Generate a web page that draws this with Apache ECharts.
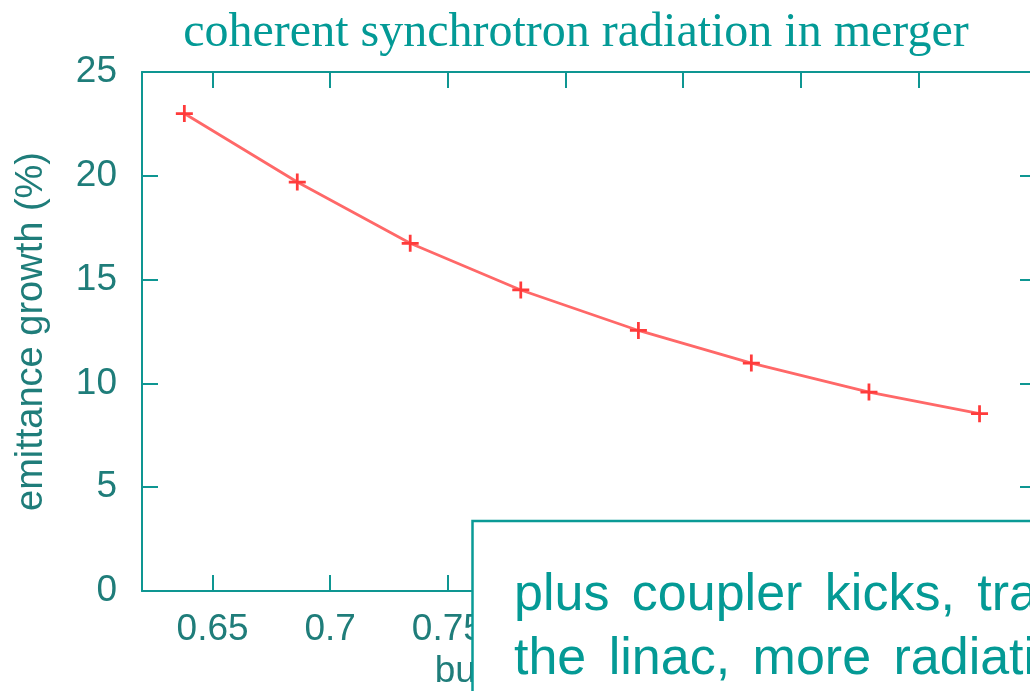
<!DOCTYPE html>
<html>
<head>
<meta charset="utf-8">
<script src="https://cdn.jsdelivr.net/npm/echarts@6/dist/echarts.min.js"></script>
<style>
  html, body { margin: 0; padding: 0; background: #ffffff; overflow: hidden; width: 1030px; height: 691px; }
  #chart { width: 1040px; height: 691px; }
</style>
</head>
<body>
<div id="chart"></div>
<script>
// ---- data ----
var titleText = 'coherent synchrotron radiation in merger';
var xAxisName = 'bunch length (mm)';
var yAxisName = 'emittance growth (%)';
var bunchLength = [0.638, 0.686, 0.734, 0.781, 0.831, 0.879, 0.929, 0.976];
var emittanceGrowth = [23.0, 19.7, 16.75, 14.5, 12.55, 10.98, 9.58, 8.54];
var xTickValues = [0.65, 0.7, 0.75, 0.8, 0.85, 0.9, 0.95, 1.0];
var xMin = 0.62, xMax = 1.0;
var yMin = 0, yMax = 25, yStep = 5;
var noteLines = ['plus coupler kicks, transverse', 'the linac, more radiation'];

var teal = '#0e9692';
var labelColor = '#1f7d7a';
var noteColor = '#049a95';
var noteFont = '"Liberation Sans", Arial, sans-serif';
var plusPath = 'path://M-1.3,-8L1.3,-8L1.3,-1.3L8,-1.3L8,1.3L1.3,1.3L1.3,8L-1.3,8L-1.3,1.3L-8,1.3L-8,-1.3L-1.3,-1.3Z';

// justified-looking note: each word is a rich token with a little extra right padding
function noteRich(line) {
  return line.split(' ').map(function (w) { return '{w|' + w + ' }'; }).join('');
}
var noteRichStyle = { w: { fontFamily: noteFont, fontSize: 52, fill: noteColor, padding: [0, 8, 0, 0] } };

var chart = echarts.init(document.getElementById('chart'), null, { renderer: 'canvas' });

var axisLineStyle = { color: teal, width: 2 };

var option = {
  backgroundColor: '#ffffff',
  animation: false,
  grid: {
    left: 142, right: 4, top: 72, bottom: 100,
    containLabel: false,
    outerBoundsMode: 'none'
  },
  xAxis: [
    {
      type: 'value', position: 'bottom', min: xMin, max: xMax,
      splitLine: { show: false },
      axisLine: { show: true, lineStyle: axisLineStyle, onZero: false },
      axisTick: { show: true, inside: true, length: 16, lineStyle: { color: teal, width: 2 }, customValues: xTickValues },
      axisLabel: {
        show: true, customValues: xTickValues, margin: 20,
        color: labelColor, fontFamily: 'Liberation Sans', fontSize: 37,
        showMinLabel: true, showMaxLabel: true
      },
      name: xAxisName, nameLocation: 'middle', nameGap: 60,
      nameTextStyle: { color: labelColor, fontFamily: 'Liberation Sans', fontSize: 37 }
    },
    {
      type: 'value', position: 'top', min: xMin, max: xMax,
      splitLine: { show: false },
      axisLine: { show: true, lineStyle: axisLineStyle, onZero: false },
      axisTick: { show: true, inside: true, length: 16, lineStyle: { color: teal, width: 2 }, customValues: xTickValues },
      axisLabel: { show: false }
    }
  ],
  yAxis: [
    {
      type: 'value', position: 'left', min: yMin, max: yMax, interval: yStep,
      splitLine: { show: false },
      axisLine: { show: true, lineStyle: axisLineStyle, onZero: false },
      axisTick: { show: true, inside: true, length: 16, lineStyle: { color: teal, width: 2 } },
      axisLabel: { show: true, margin: 25, color: labelColor, fontFamily: 'Liberation Sans', fontSize: 37 },
      name: yAxisName, nameLocation: 'middle', nameGap: 91, nameRotate: 90,
      nameTextStyle: { color: labelColor, fontFamily: 'Liberation Sans', fontSize: 38 }
    },
    {
      type: 'value', position: 'right', min: yMin, max: yMax, interval: yStep,
      splitLine: { show: false },
      axisLine: { show: true, lineStyle: axisLineStyle, onZero: false },
      axisTick: { show: true, inside: true, length: 16, lineStyle: { color: teal, width: 2 } },
      axisLabel: { show: false }
    }
  ],
  series: [
    {
      type: 'line',
      xAxisIndex: 0, yAxisIndex: 0,
      data: bunchLength.map(function (x, i) { return [x, emittanceGrowth[i]]; }),
      symbol: plusPath,
      symbolSize: 17,
      showSymbol: true,
      itemStyle: { color: '#ff3b3b' },
      lineStyle: { color: '#ff6868', width: 2.8 },
      emphasis: { disabled: true },
      z: 3
    }
  ],
  graphic: [
    {
      type: 'text', x: 576, y: 9,
      style: { text: titleText, fill: '#039a96', font: '48px "Liberation Serif", "Times New Roman", serif', align: 'center', verticalAlign: 'top' },
      z: 10
    },
    {
      type: 'rect', shape: { x: 472.5, y: 521, width: 620, height: 220 },
      style: { fill: '#ffffff', stroke: '#0a9a96', lineWidth: 2.5 },
      z: 20
    },
    {
      type: 'text', x: 514, y: 596,
      style: { text: noteRich(noteLines[0]), rich: noteRichStyle, fill: noteColor, font: '52px ' + noteFont, verticalAlign: 'middle', align: 'left' },
      z: 21
    },
    {
      type: 'text', x: 514, y: 660,
      style: { text: noteRich(noteLines[1]), rich: noteRichStyle, fill: noteColor, font: '52px ' + noteFont, verticalAlign: 'middle', align: 'left' },
      z: 21
    }
  ]
};
chart.setOption(option);
</script>
</body>
</html>
